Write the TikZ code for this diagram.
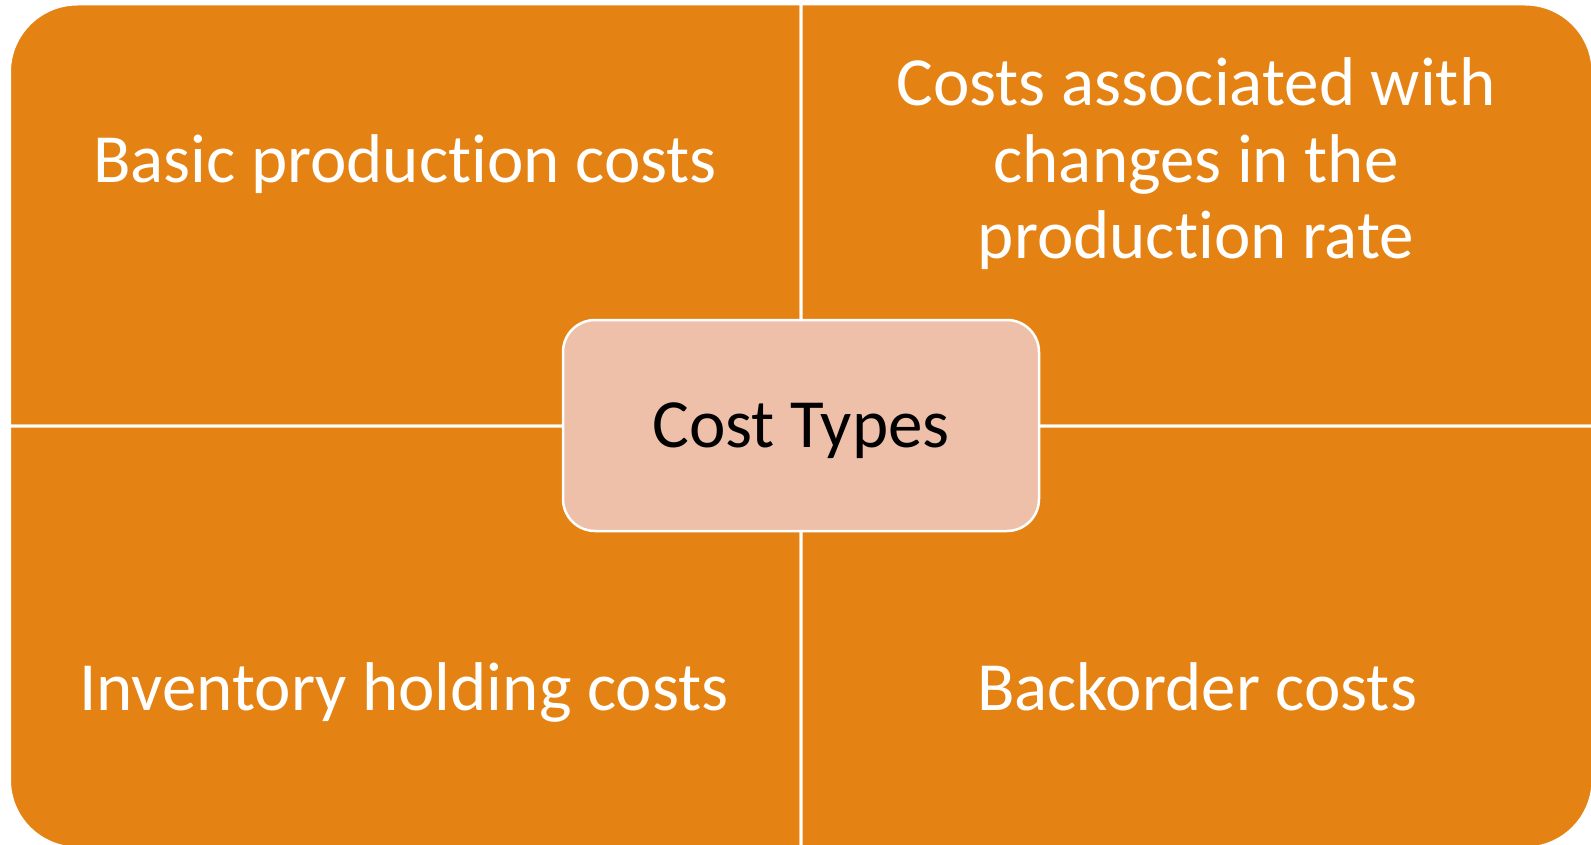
\documentclass[tikz,border=0pt]{standalone}
\usepackage{fontspec}
\setmainfont[Ligatures=NoCommon]{Carlito}
\definecolor{quadfill}{RGB}{228,131,19}
\definecolor{hubfill}{RGB}{238,192,170}
\begin{document}
\begin{tikzpicture}[x=1pt,y=-1pt]
    \tikzstyle{quad}=[fill=quadfill, draw=white, line width=3pt]
    \tikzstyle{lbl}=[text=white, font=\fontsize{69}{77}\selectfont, align=center, inner sep=0pt]
    \useasboundingbox (0,0) rectangle (1591,845);
    % four quadrants, each with one rounded outer corner
    \draw[quad] (801,426) -- (9.5,426) [rounded corners=68pt]-- (9.5,4) [sharp corners]-- (801,4) -- cycle;
    \draw[quad] (801,426) -- (801,4) [rounded corners=68pt]-- (1593,4) [sharp corners]-- (1593,426) -- cycle;
    \draw[quad] (801,426) -- (9.5,426) [rounded corners=68pt]-- (9.5,848) [sharp corners]-- (801,848) -- cycle;
    \draw[quad] (801,426) -- (801,848) [rounded corners=68pt]-- (1593,848) [sharp corners]-- (1593,426) -- cycle;
    % quadrant labels (base = last line)
    \node[lbl, anchor=base] (q1) at (405,183) {Basic production costs};
    \node[lbl, anchor=base] (q2) at (1196,259) {Costs associated with\\changes in the\\production rate};
    \node[lbl, anchor=base] (q3) at (404,710) {Inventory holding costs};
    \node[lbl, anchor=base] (q4) at (1197,710) {Backorder costs};
    % hub
    \node[fill=hubfill, draw=white, line width=2.5pt, rounded corners=32pt,
          minimum width=476pt, minimum height=211pt, text depth=0pt,
          font=\fontsize{69}{77}\selectfont] (ct) at (801,425.5) {Cost Types};
\end{tikzpicture}
\end{document}
